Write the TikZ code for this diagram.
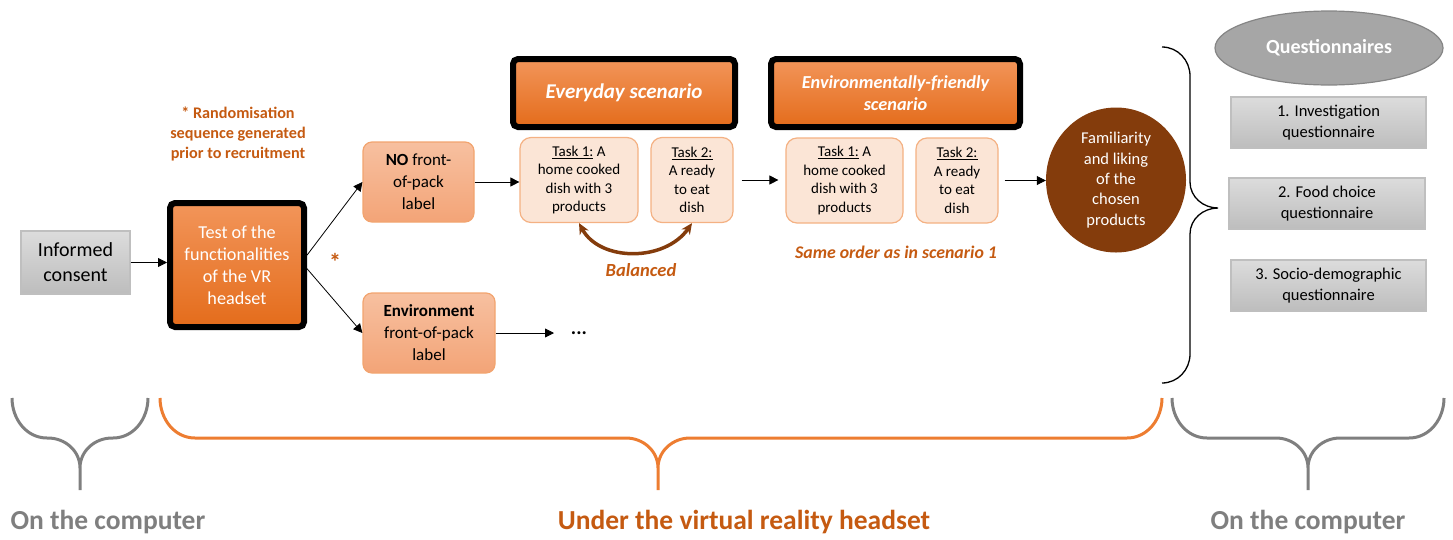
\documentclass[tikz,border=0pt]{standalone}
\usepackage{fontspec}
\setmainfont{Carlito}
\usetikzlibrary{arrows.meta,shapes.geometric,positioning}

\definecolor{greytop}{HTML}{DCDCDC}
\definecolor{greybot}{HTML}{BDBDBD}
\definecolor{greyline}{HTML}{BFBFBF}
\definecolor{orangetop}{HTML}{F2955A}
\definecolor{orangebot}{HTML}{E46C1B}
\definecolor{salmontop}{HTML}{F7C0A0}
\definecolor{salmonbot}{HTML}{F3A477}
\definecolor{salmonline}{HTML}{F2A46F}
\definecolor{taskfill}{HTML}{FBE5D6}
\definecolor{taskline}{HTML}{F4B183}
\definecolor{darkbrown}{HTML}{843C0C}
\definecolor{textorange}{HTML}{C55A11}
\definecolor{braceorange}{HTML}{ED7D31}
\definecolor{bracegrey}{HTML}{7F7F7F}
\definecolor{ovalgrey}{HTML}{A6A6A6}

\begin{document}
\begin{tikzpicture}[x=1pt,y=-1pt]
    \tikzstyle{greybox} = [shape=rectangle, draw=greyline, line width=1.2pt, top color=greytop, bottom color=greybot, align=center]
    \tikzstyle{vrbox}   = [shape=rectangle, draw=black, line width=6pt, rounded corners=5pt, top color=orangetop, bottom color=orangebot, text=white, align=center]
    \tikzstyle{labbox}  = [shape=rectangle, draw=salmonline, line width=1.2pt, rounded corners=9pt, top color=salmontop, bottom color=salmonbot, align=center, font=\fontsize{17}{22}\selectfont]
    \tikzstyle{taskbox} = [shape=rectangle, draw=taskline, line width=1.2pt, rounded corners=11pt, fill=taskfill, align=center, minimum height=85pt, font=\fontsize{15}{18.5}\selectfont]
    \tikzstyle{scenbox} = [vrbox, minimum height=68pt, font=\fontsize{21}{22}\selectfont\bfseries\itshape]
    \tikzstyle{note}    = [text=textorange, align=center, font=\fontsize{17.8}{20}\selectfont\bfseries\itshape]
    \tikzstyle{arr}     = [-{Triangle[length=9pt,width=9pt]}, line width=0.8pt]
    \tikzstyle{where}   = [font=\fontsize{27.5}{28}\selectfont\bfseries]
    \useasboundingbox (0,0) rectangle (1453,539);

    % left part
    \node (inf) [greybox, minimum width=109pt, minimum height=63pt, font=\fontsize{20}{25}\selectfont] at (75.5,262.5) {Informed\\consent};
    \node (test) [vrbox, minimum width=134pt, minimum height=124pt, font=\fontsize{18.2}{22}\selectfont] at (237,265) {Test of the\\functionalities\\of the VR\\headset};
    \node (rand) [note, font=\fontsize{16.2}{20}\selectfont\bfseries] at (238,134) {* Randomisation\\sequence generated\\prior to recruitment};
    \node (star) [text=textorange, font=\fontsize{24}{24}\selectfont\bfseries] at (335,262) {*};
    \draw [arr] (inf.east) -- (inf.east -| test.west);

    % the two labels
    \node (no) [labbox, minimum width=111pt, minimum height=80pt] at (418.5,182) {\textbf{NO} front-\\of-pack\\label};
    \node (env) [labbox, minimum width=132pt, minimum height=80pt] at (429,333) {\textbf{Environment}\\front-of-pack\\label};
    \draw [arr] (test.8) -- (no.west);
    \draw [arr] (test.-3) -- (env.west);
    \node (dots) [font=\fontsize{20}{20}\selectfont\bfseries] at (579,333) {...};
    \draw [arr, shorten >=25pt] (env.east) -- (dots.center);

    % scenario 1
    \node (sc1) [scenbox, minimum width=222pt] at (624,93) {Everyday scenario};
    \node (t1) [taskbox, minimum width=118pt] at (579,180) {\underline{Task 1:} A\\home cooked\\dish with 3\\products};
    \node (t2) [taskbox, minimum width=82pt] at (692,180) {\underline{Task 2:}\\A ready\\to eat\\dish};
    \draw [arr] (no.east) -- (no.east -| t1.west);
    \draw [{Stealth[length=11pt,width=10pt]}-{Stealth[length=11pt,width=10pt]}, darkbrown, line width=3.5pt]
        (t1.south) .. controls (600,262) and (665,262) .. (t2.south);
    \node (bal) [note, font=\fontsize{18.5}{20}\selectfont\bfseries\itshape] at (641,270) {Balanced};

    % scenario 2
    \node (sc2) [scenbox, minimum width=249pt, font=\fontsize{18.3}{22}\selectfont\bfseries\itshape] at (895.5,93) {Environmentally-friendly\\scenario};
    \node (t1b) [taskbox, minimum width=117pt] at (844.5,180.5) {\underline{Task 1:} A\\home cooked\\dish with 3\\products};
    \node (t2b) [taskbox, minimum width=82pt] at (957,180.5) {\underline{Task 2:}\\A ready\\to eat\\dish};
    \draw [arr, shorten <=8pt, shorten >=7pt] (t2.east) -- (t2.east -| t1b.west);
    \node (same) [note] at (896,252) {Same order as in scenario 1};

    % products and questionnaires
    \node (fam) [shape=ellipse, fill=darkbrown, text=white, minimum width=140pt, minimum height=145pt, inner sep=0pt, align=center, font=\fontsize{16.5}{20.3}\selectfont] at (1116,180) {Familiarity\\and liking\\of the\\chosen\\products};
    \draw [arr, shorten <=6pt] (t2b.east) -- (t2b.east -| fam.west);
    \draw [line width=1.3pt] (1162,47) to[out=0,in=90] (1190,76) -- (1190,182) to[out=-90,in=180] (1218,208)
        to[out=180,in=90] (1190,234) -- (1190,354) to[out=-90,in=0] (1162,383);
    \node (quest) [shape=ellipse, draw=ovalgrey!80!black, line width=1.2pt, fill=ovalgrey, text=white, minimum width=228pt, minimum height=74pt, font=\fontsize{20}{22}\selectfont\bfseries] at (1329,48) {Questionnaires};
    \node (q1) [greybox, minimum width=195pt, minimum height=51pt, font=\fontsize{16.5}{20.5}\selectfont] at (1328.5,122.5) {1. Investigation\\questionnaire};
    \node (q2) [greybox, minimum width=196pt, minimum height=51pt, font=\fontsize{16.5}{20.5}\selectfont] at (1327,203.5) {2. Food choice\\questionnaire};
    \node (q3) [greybox, minimum width=195pt, minimum height=51pt, font=\fontsize{16.5}{20.5}\selectfont] at (1328.5,285.5) {3. Socio-demographic\\questionnaire};

    % bottom braces
    \foreach \a/\t/\b/\c in {12/80/148/bracegrey, 160/658/1162/braceorange, 1172/1308/1444/bracegrey}
        \draw [\c, line width=3pt] (\a,398) to[out=-90,in=180] (\a+35,438) -- (\t-32,438) to[out=0,in=90] (\t,468) -- (\t,490)
            (\t,468) to[out=90,in=180] (\t+32,438) -- (\b-35,438) to[out=0,in=-90] (\b,398);
    \node (pc1) [where, text=bracegrey, anchor=west] at (7,522) {On the computer};
    \node (vr) [where, text=textorange] at (744,522) {Under the virtual reality headset};
    \node (pc2) [where, text=bracegrey] at (1308,522) {On the computer};
\end{tikzpicture}
\end{document}
